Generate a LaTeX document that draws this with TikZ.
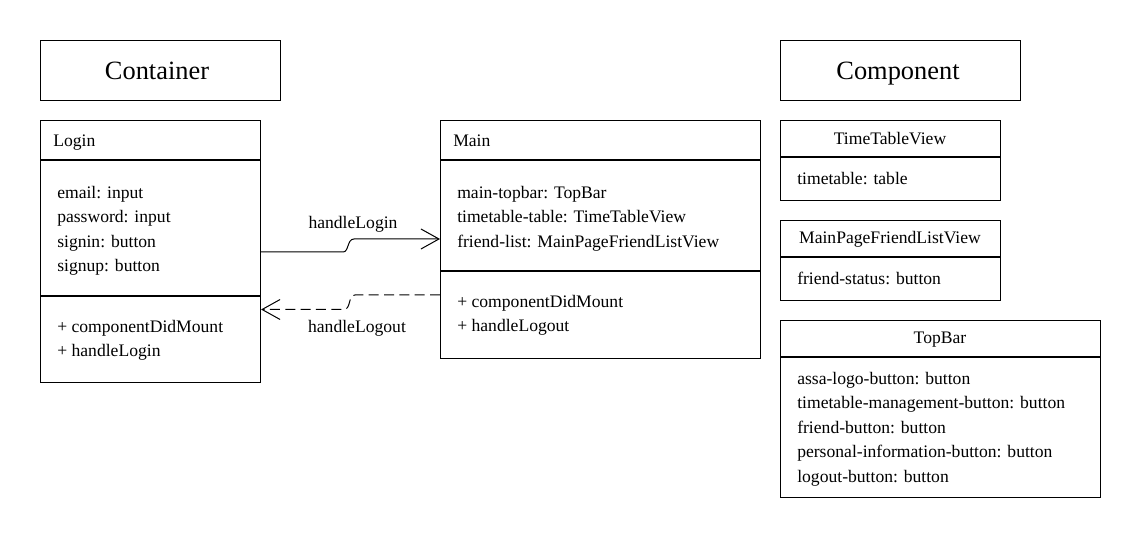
\documentclass[tikz,border=0pt]{standalone}
\usepackage{fontspec}
\setmainfont{Liberation Serif}
\usetikzlibrary{arrows.meta}
\begin{document}
\begin{tikzpicture}[x=0.75pt,y=-0.75pt,
  box/.style={draw=black,line width=0.8pt,rectangle,anchor=north west,inner sep=0pt,fill=white},
  txt/.style={anchor=base west,inner sep=0pt,font=\fontsize{13.2pt}{16pt}\selectfont},
  ctxt/.style={anchor=base,inner sep=0pt,font=\fontsize{13.2pt}{16pt}\selectfont},
  bigtxt/.style={anchor=base,inner sep=0pt,font=\fontsize{19.8pt}{24pt}\selectfont},
  sep/.style={line width=0.8pt},
  conn/.style={line width=0.75pt,-{Straight Barb[length=13.5pt,width=15pt,line width=0.75pt]}},
  dconn/.style={conn,dash pattern=on 7.5pt off 4pt}
]
\useasboundingbox (0,0) rectangle (1140,538);

% Headings
\node[box,minimum width=180pt,minimum height=45pt] (container) at (40,40) {};
\node[bigtxt] (containerT) at (157,79.5) {Container};
\node[box,minimum width=180pt,minimum height=45pt] (component) at (780,40) {};
\node[bigtxt] (componentT) at (898,79.5) {Component};

% Login
\node[box,minimum width=165pt,minimum height=196.5pt] (login) at (40,120) {};
\draw[sep] (login.west |- 0,160) -- (login.east |- 0,160);
\draw[sep] (login.west |- 0,296) -- (login.east |- 0,296);
\node[txt] (loginT) at (53,147) {Login};
\node[txt] (l1) at (57,198.5) {email: input};
\node[txt] (l2) at (57,223) {password: input};
\node[txt] (l3) at (57,247.5) {signin: button};
\node[txt] (l4) at (57,272) {signup: button};
\node[txt] (l5) at (57,332.5) {+ componentDidMount};
\node[txt] (l6) at (57,357) {+ handleLogin};

% Main
\node[box,minimum width=240pt,minimum height=178.5pt] (main) at (440,120) {};
\draw[sep] (main.west |- 0,160) -- (main.east |- 0,160);
\draw[sep] (main.west |- 0,271) -- (main.east |- 0,271);
\node[txt] (mainT) at (453,147) {Main};
\node[txt] (m1) at (457,198.5) {main-topbar: TopBar};
\node[txt] (m2) at (457,223) {timetable-table: TimeTableView};
\node[txt] (m3) at (457,247.5) {friend-list: MainPageFriendListView};
\node[txt] (m4) at (457,307.5) {+ componentDidMount};
\node[txt] (m5) at (457,332) {+ handleLogout};

% TimeTableView
\node[box,minimum width=165pt,minimum height=60pt] (ttv) at (780,120) {};
\draw[sep] (ttv.west |- 0,157) -- (ttv.east |- 0,157);
\node[ctxt] (ttvT) at (890,144.5) {TimeTableView};
\node[txt] (t1) at (797,184.5) {timetable: table};

% MainPageFriendListView
\node[box,minimum width=165pt,minimum height=60pt] (mpf) at (780,220) {};
\draw[sep] (mpf.west |- 0,257) -- (mpf.east |- 0,257);
\node[ctxt] (mpfT) at (890,243.5) {MainPageFriendListView};
\node[txt] (f1) at (797,284.5) {friend-status: button};

% TopBar
\node[box,minimum width=240pt,minimum height=132.75pt] (topbar) at (780,320) {};
\draw[sep] (topbar.west |- 0,357) -- (topbar.east |- 0,357);
\node[ctxt] (topbarT) at (940,343.5) {TopBar};
\node[txt] (b1) at (797,384.5) {assa-logo-button: button};
\node[txt] (b2) at (797,409) {timetable-management-button: button};
\node[txt] (b3) at (797,433.5) {friend-button: button};
\node[txt] (b4) at (797,458) {personal-information-button: button};
\node[txt] (b5) at (797,482.5) {logout-button: button};

% Connectors
\draw[conn] (login.east |- 0,252) -- (343,252) .. controls (349,252) and (347,239) .. (354,239) -- (main.west |- 0,239);
\node[ctxt] (lblLogin) at (353,228.5) {handleLogin};
\draw[dconn] (main.west |- 0,295) -- (355,295) .. controls (348,295) and (351,309.5) .. (344,309.5) -- (login.east |- 0,309.5);
\node[ctxt] (lblLogout) at (357,332.5) {handleLogout};
\end{tikzpicture}
\end{document}
